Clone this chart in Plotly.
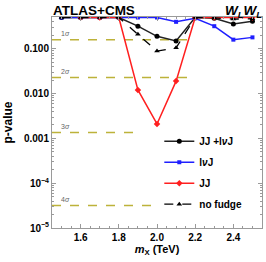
import math
import plotly.graph_objects as go

mx = [1.5, 1.6, 1.7, 1.8, 1.9, 2.0, 2.1, 2.2, 2.3, 2.4, 2.5]
p_comb = [0.5, 0.5, 0.5, 0.5, 0.32, 0.19, 0.15, 0.5, 0.48, 0.36, 0.41]
p_lvj = [0.5, 0.5, 0.5, 0.5, 0.5, 0.5, 0.40, 0.48, 0.32, 0.16, 0.18]
mx_jj = [1.6, 1.7, 1.8, 1.9, 2.0, 2.1, 2.2, 2.3, 2.4, 2.5]
p_jj = [0.5, 0.5, 0.5, 0.0121, 0.0021, 0.019, 0.5, 0.5, 0.5, 0.5]
p_nofudge = [0.5, 0.5, 0.5, 0.5, 0.21, 0.089, 0.105, 0.5, 0.49, 0.46, 0.47]

sig_labels = ["1σ", "2σ", "3σ", "4σ"]
sig_p = [0.1587, 0.02275, 0.00135, 3.17e-5]
sig_xend = [2.2, 2.2, 1.9, 2.0]

ytick_vals = [1e-5, 1e-4, 1e-3, 1e-2, 1e-1]
ytick_text = ["10<sup>−5</sup>", "10<sup>−4</sup>", "0.001", "0.010", "0.100"]
xtick_vals = [1.6, 1.8, 2.0, 2.2, 2.4]

FONT = "Liberation Sans, Arial, sans-serif"
OLIVE = "#BDB23A"
AXC = "#9a9a9a"

fig = go.Figure()

for p, xe in zip(sig_p, sig_xend):
    fig.add_trace(go.Scatter(x=[1.45, xe], y=[p, p], mode="lines",
                             line=dict(color=OLIVE, width=1.5, dash="dash"),
                             showlegend=False, hoverinfo="skip"))

fig.add_trace(go.Scatter(x=mx, y=p_comb, mode="lines+markers", name="JJ +l<i>ν</i>J",
                         line=dict(color="#222222", width=1.5),
                         marker=dict(symbol="circle", size=5, color="black"),
                         legendgroup="a"))
fig.add_trace(go.Scatter(x=mx, y=p_lvj, mode="lines+markers", name="l<i>ν</i>J",
                         line=dict(color="#1f1fff", width=1.5),
                         marker=dict(symbol="square", size=4, color="#1f1fff"),
                         legendgroup="b"))
fig.add_trace(go.Scatter(x=mx_jj, y=p_jj, mode="lines+markers", name="JJ",
                         line=dict(color="#ff1f1f", width=1.5),
                         marker=dict(symbol="diamond", size=5, color="#ff1f1f"),
                         legendgroup="c"))
fig.add_trace(go.Scatter(x=mx, y=p_nofudge, mode="lines+markers", name="no fudge",
                         line=dict(color="black", width=1.3, dash="dash"),
                         marker=dict(symbol="triangle-up", size=5, color="black"),
                         legendgroup="d"))

for lab, p in zip(sig_labels, sig_p):
    fig.add_annotation(x=1.52, y=math.log10(p), yref="y", xref="x",
                       text=lab.replace("σ", "<i>σ</i>"),
                       showarrow=False, yshift=6, font=dict(family=FONT, size=7, color="#666666"))

fig.add_annotation(x=0, y=1, xref="paper", yref="paper", xanchor="left", yanchor="bottom",
                   text="<b>ATLAS+CMS</b>", showarrow=False, yshift=-3, xshift=-1,
                   font=dict(family=FONT, size=13.5, color="black"))
fig.add_annotation(x=1, y=1, xref="paper", yref="paper", xanchor="right", yanchor="bottom",
                   text="<b><i>W<sub>L</sub>W<sub>L</sub></i></b>", showarrow=False,
                   yshift=-5, xshift=2,
                   font=dict(family=FONT, size=13.5, color="black"))

fig.update_layout(
    width=266, height=262,
    margin=dict(l=52, r=4, t=17, b=34),
    plot_bgcolor="white", paper_bgcolor="white",
    font=dict(family=FONT, size=10, color="black"),
    legend=dict(x=0.93, y=0.48, xanchor="right", yanchor="top",
                bgcolor="rgba(0,0,0,0)", itemwidth=30, tracegroupgap=2,
                font=dict(family=FONT, size=10, color="black", weight="bold")),
    xaxis=dict(range=[1.45, 2.55], tickvals=xtick_vals, ticktext=[f"{v:.1f}" for v in xtick_vals],
               ticks="inside", ticklen=4, tickcolor=AXC, mirror="ticks", automargin=False,
               showline=True, linecolor=AXC, linewidth=1, showgrid=False, zeroline=False,
               tickfont=dict(family=FONT, size=10, weight="bold"),
               minor=dict(dtick=0.05, ticks="inside", ticklen=2, tickcolor=AXC, showgrid=False),
               title=dict(text="<i>m</i><sub>X</sub> (TeV)", standoff=1,
                          font=dict(family=FONT, size=11, weight="bold"))),
    yaxis=dict(type="log", range=[-5.0, -0.29], tickvals=ytick_vals, ticktext=ytick_text,
               ticks="inside", ticklen=4, tickcolor=AXC, mirror="ticks", automargin=False,
               showline=True, linecolor=AXC, linewidth=1, showgrid=False, zeroline=False,
               tickfont=dict(family=FONT, size=10, weight="bold"),
               minor=dict(ticks="inside", ticklen=2, tickcolor=AXC, showgrid=False, dtick="D1"),
               title=dict(text="p-value", standoff=8,
                          font=dict(family=FONT, size=12, weight="bold"))),
)

fig.write_html("out.html", config={"displayModeBar": False},
               post_script="document.body.style.margin='0';")
